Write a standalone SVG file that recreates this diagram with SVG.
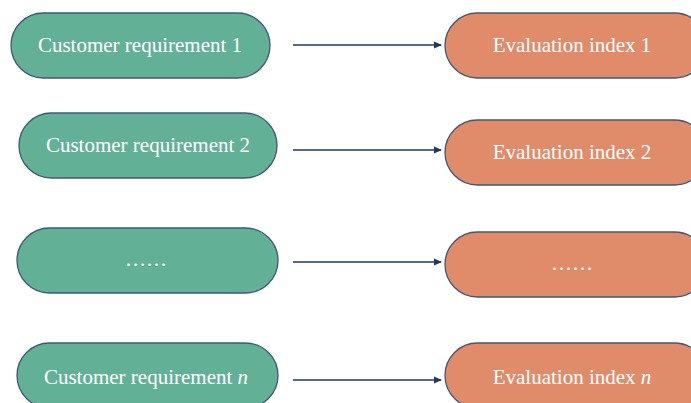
<svg xmlns="http://www.w3.org/2000/svg" width="691" height="403" viewBox="0 0 691 403">
<style>
.g{fill:#62B196;stroke:#3E5878;stroke-width:1.3}
.o{fill:#E08C6B;stroke:#3E5878;stroke-width:1.3}
.t{font-family:"Liberation Serif","Times New Roman",serif;font-size:21px;fill:#FFFFFF;text-anchor:middle}
.c{stroke:#1F3866;stroke-width:1.3;fill:none;marker-end:url(#ah)}
</style>
<defs>
<marker id="ah" markerWidth="8" markerHeight="8" refX="7" refY="4" orient="auto" markerUnits="userSpaceOnUse">
<path d="M0,0.5 L8,4 L0,7.5 Z" fill="#1F3866"/>
</marker>
</defs>
<rect width="691" height="403" fill="#FFFFFF"/>
<g id="cr1"><rect class="g" x="11" y="13" width="259" height="65" rx="32.5"/><text class="t" x="140" y="52">Customer requirement 1</text></g>
<g id="cr2"><rect class="g" x="19" y="113" width="258" height="65" rx="32.5"/><text class="t" x="148" y="152">Customer requirement 2</text></g>
<g id="cr3"><rect class="g" x="17" y="228" width="261" height="65" rx="32.5"/><text class="t" x="146" y="266">……</text></g>
<g id="crn"><rect class="g" x="17" y="343" width="261" height="65" rx="32.5"/><text class="t" x="146" y="384">Customer requirement <tspan font-style="italic">n</tspan></text></g>
<g id="ei1"><rect class="o" x="445" y="13" width="262" height="65" rx="32.5"/><text class="t" x="572" y="52">Evaluation index 1</text></g>
<g id="ei2"><rect class="o" x="445" y="120" width="262" height="65" rx="32.5"/><text class="t" x="572" y="159">Evaluation index 2</text></g>
<g id="ei3"><rect class="o" x="445" y="232" width="262" height="65" rx="32.5"/><text class="t" x="572" y="270">……</text></g>
<g id="ein"><rect class="o" x="445" y="343" width="262" height="65" rx="32.5"/><text class="t" x="572" y="384">Evaluation index <tspan font-style="italic">n</tspan></text></g>
<g id="connectors">
<line class="c" x1="293" y1="45" x2="441" y2="45"/>
<line class="c" x1="293" y1="150" x2="441" y2="150"/>
<line class="c" x1="293" y1="262" x2="441" y2="262"/>
<line class="c" x1="293" y1="380" x2="441" y2="380"/>
</g>
</svg>
